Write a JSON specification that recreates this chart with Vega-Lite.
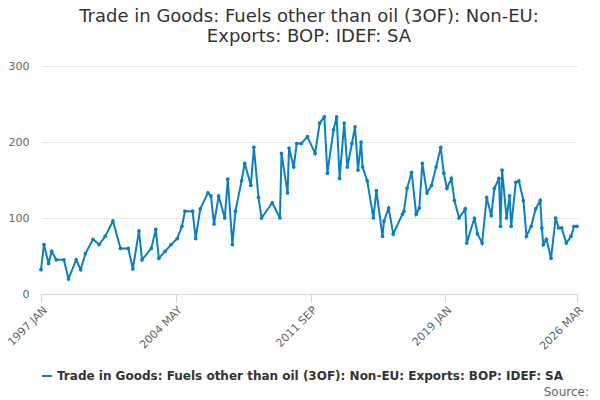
{
"$schema":"https://vega.github.io/schema/vega-lite/v6.json",
"width":600,"height":400,
"autosize":{"type":"fit","contains":"padding"},
"padding":{"left":5,"right":15,"top":8,"bottom":18},
"config":{"font":"DejaVu Sans","view":{"stroke":null}},
"title":{"text":["Trade in Goods: Fuels other than oil (3OF): Non-EU:","Exports: BOP: IDEF: SA"],"fontSize":18,"fontWeight":"normal","color":"#333","anchor":"middle","offset":14},
"data":{"values":[
{"d":"1997-01","v":32},{"d":"1997-03","v":65},{"d":"1997-06","v":40},{"d":"1997-08","v":56},{"d":"1997-11","v":45},{"d":"1998-04","v":45},{"d":"1998-07","v":20},{"d":"1998-12","v":45},{"d":"1999-03","v":32},{"d":"1999-06","v":53},{"d":"1999-11","v":72},{"d":"2000-03","v":65},{"d":"2000-07","v":76},{"d":"2000-12","v":96},{"d":"2001-05","v":60},{"d":"2001-10","v":60},{"d":"2002-01","v":33},{"d":"2002-05","v":83},{"d":"2002-07","v":45},{"d":"2003-01","v":60},{"d":"2003-04","v":85},{"d":"2003-06","v":47},{"d":"2003-10","v":56},{"d":"2004-02","v":65},{"d":"2004-06","v":73},{"d":"2004-09","v":89},{"d":"2004-11","v":109},{"d":"2005-04","v":109},{"d":"2005-06","v":73},{"d":"2005-09","v":112},{"d":"2006-02","v":133},{"d":"2006-04","v":129},{"d":"2006-06","v":92},{"d":"2006-09","v":129},{"d":"2007-01","v":100},{"d":"2007-03","v":151},{"d":"2007-06","v":65},{"d":"2007-08","v":109},{"d":"2007-12","v":149},{"d":"2008-02","v":172},{"d":"2008-06","v":143},{"d":"2008-08","v":193},{"d":"2008-11","v":127},{"d":"2009-01","v":100},{"d":"2009-08","v":120},{"d":"2010-01","v":100},{"d":"2010-02","v":185},{"d":"2010-06","v":133},{"d":"2010-07","v":192},{"d":"2010-10","v":167},{"d":"2010-12","v":198},{"d":"2011-03","v":198},{"d":"2011-07","v":207},{"d":"2011-12","v":185},{"d":"2012-03","v":225},{"d":"2012-06","v":233},{"d":"2012-08","v":159},{"d":"2012-12","v":216},{"d":"2013-02","v":233},{"d":"2013-04","v":152},{"d":"2013-07","v":225},{"d":"2013-09","v":167},{"d":"2013-12","v":198},{"d":"2014-02","v":220},{"d":"2014-04","v":163},{"d":"2014-06","v":200},{"d":"2014-07","v":167},{"d":"2014-10","v":149},{"d":"2015-02","v":100},{"d":"2015-04","v":136},{"d":"2015-08","v":76},{"d":"2015-09","v":96},{"d":"2015-12","v":113},{"d":"2016-03","v":79},{"d":"2016-09","v":105},{"d":"2016-10","v":109},{"d":"2016-12","v":139},{"d":"2017-03","v":160},{"d":"2017-06","v":105},{"d":"2017-08","v":113},{"d":"2017-10","v":172},{"d":"2018-01","v":133},{"d":"2018-04","v":143},{"d":"2018-07","v":167},{"d":"2018-10","v":193},{"d":"2018-12","v":159},{"d":"2019-02","v":139},{"d":"2019-05","v":152},{"d":"2019-07","v":123},{"d":"2019-10","v":100},{"d":"2020-02","v":112},{"d":"2020-03","v":67},{"d":"2020-08","v":100},{"d":"2020-10","v":79},{"d":"2021-01","v":67},{"d":"2021-04","v":127},{"d":"2021-07","v":103},{"d":"2021-09","v":139},{"d":"2021-12","v":152},{"d":"2022-01","v":89},{"d":"2022-02","v":163},{"d":"2022-05","v":100},{"d":"2022-07","v":129},{"d":"2022-08","v":89},{"d":"2022-11","v":147},{"d":"2023-01","v":149},{"d":"2023-04","v":123},{"d":"2023-06","v":76},{"d":"2023-09","v":89},{"d":"2023-12","v":112},{"d":"2024-03","v":123},{"d":"2024-04","v":87},{"d":"2024-05","v":65},{"d":"2024-07","v":72},{"d":"2024-10","v":47},{"d":"2025-01","v":100},{"d":"2025-03","v":87},{"d":"2025-05","v":87},{"d":"2025-08","v":67},{"d":"2025-11","v":76},{"d":"2026-01","v":89},{"d":"2026-03","v":89}
]},
"transform":[{"calculate":"'Trade in Goods: Fuels other than oil (3OF): Non-EU: Exports: BOP: IDEF: SA'","as":"s"}],
"layer":[
{"mark":{"type":"line","strokeWidth":2,"point":{"size":14,"filled":true}},
"encoding":{
"x":{"field":"d","type":"temporal","title":null,"scale":{"domain":["1997-01-01","2026-03-01"],"nice":false},
"axis":{"values":["1997-01-01","2004-05-01","2011-09-01","2019-01-01","2026-03-01"],"labelExpr":"upper(timeFormat(datum.value,'%Y %b'))","labelAngle":-45,"labelAlign":"right","labelColor":"#666","labelFontSize":11,"grid":false,"domainColor":"#ccd6eb","tickColor":"#ccd6eb","tickSize":8}},
"y":{"field":"v","type":"quantitative","title":null,"scale":{"domain":[0,300]},
"axis":{"values":[0,100,200,300],"domain":false,"ticks":false,"labelColor":"#666","labelFontSize":11,"gridColor":"#e6e6e6","labelPadding":12}},
"color":{"field":"s","type":"nominal","title":null,"scale":{"range":["#0a7fc2"]},
"legend":{"orient":"bottom","labelFontSize":12,"labelFontWeight":"bold","labelColor":"#333","symbolType":"stroke","symbolStrokeWidth":2,"labelLimit":600,"offset":18}}}},
{"data":{"values":[{"t":"Source:"}]},"mark":{"type":"text","align":"right","baseline":"middle","fontSize":12,"color":"#666"},
"encoding":{"text":{"field":"t"},"x":{"value":548},"y":{"value":326}}}
]}
